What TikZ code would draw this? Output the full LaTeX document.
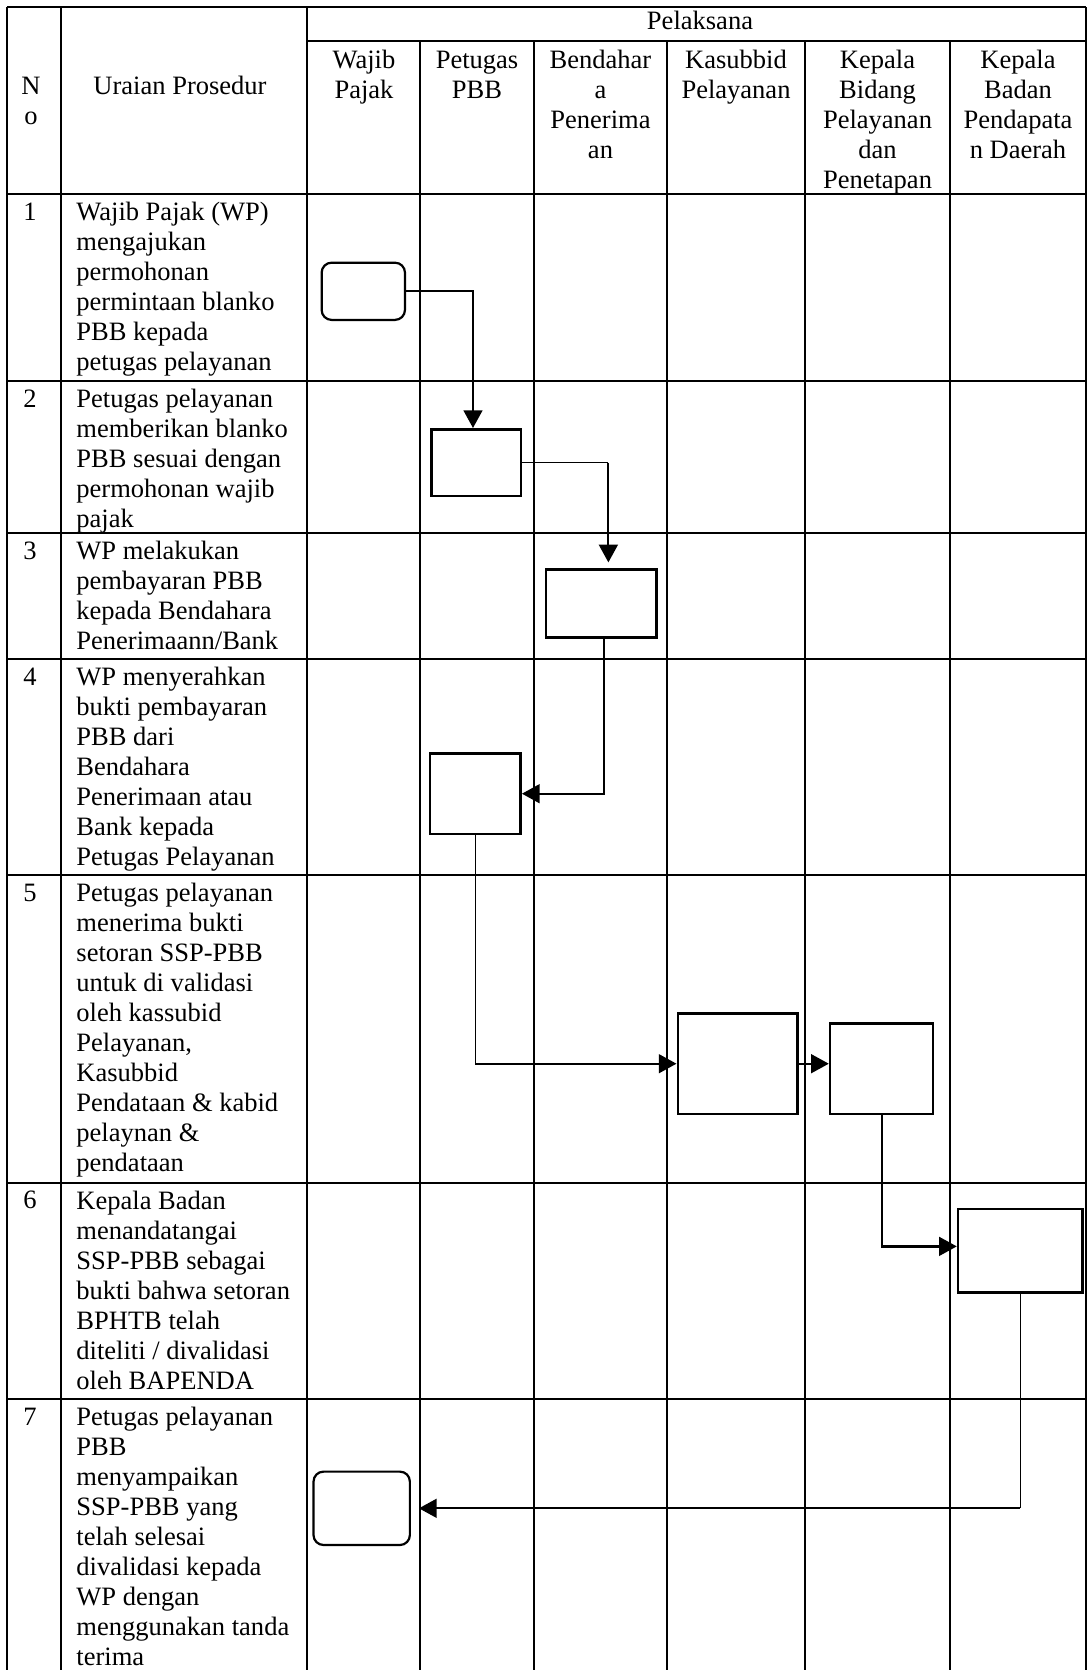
\documentclass[tikz,border=0pt]{standalone}
\usepackage{fontspec}
\setmainfont{Liberation Serif}
\usepackage{tikz}
\usetikzlibrary{arrows.meta, positioning, calc}
\definecolor{InkBlack}{HTML}{000000}

\tikzset{
  gridline/.style={draw=InkBlack, line width=0.9pt},
  procbox/.style={draw=InkBlack, line width=1.2pt, inner sep=0pt},
  termbox/.style={procbox, rounded corners=4.5pt, line width=1pt},
  flowline/.style={draw=InkBlack, line width=1pt,
                   -{Triangle[width=8.5pt, length=8pt]}},
  thinline/.style={draw=InkBlack, line width=0.5pt},
  headtext/.style={inner sep=0pt, align=center, anchor=north},
  steptext/.style={inner sep=0pt, align=left, anchor=north west},
  numtext/.style={inner sep=0pt, anchor=base},
}

\begin{document}
\begin{tikzpicture}[x=0.4525pt, y=-0.4525pt,
                    font=\fontsize{12}{13.6}\selectfont]
\useasboundingbox (0,0) rectangle (1088,1670);

% table frame
\draw[gridline] (7,7.3) -- (1086,7.3);
\draw[gridline] (307,40.7) -- (1086,40.7);
\foreach \y in {194,381,533.3,659,875,1182.7,1399}
  \draw[gridline] (7,\y) -- (1086,\y);
\foreach \x in {7,61,307,1086}
  \draw[gridline] (\x,7.3) -- (\x,1670);
\foreach \x in {420,534,667,805,950}
  \draw[gridline] (\x,40.7) -- (\x,1670);

% header
\node[headtext] (hno) at (31,73) {\strut N\\\strut o};
\node[numtext] (hurai) at (180,94) {Uraian Prosedur};
\node[numtext] (hpel) at (700,30) {Pelaksana};
\node[headtext] (hwp) at (364,46.7) {\strut Wajib\\Pajak};
\node[headtext] (hptg) at (477,46.7) {\strut Petugas\\PBB};
\node[headtext] (hbdh) at (600.5,46.7) {\strut Bendahar\\a\\Penerima\\an};
\node[headtext] (hksb) at (736,46.7) {\strut Kasubbid\\Pelayanan};
\node[headtext] (hkbp) at (877.5,46.7) {\strut Kepala\\Bidang\\Pelayanan\\dan\\Penetapan};
\node[headtext] (hkbd) at (1018,46.7) {\strut Kepala\\Badan\\Pendapata\\n Daerah};

% step numbers
\node[numtext] (n1) at (30,220) {1};
\node[numtext] (n2) at (30,407) {2};
\node[numtext] (n3) at (30,559.3) {3};
\node[numtext] (n4) at (30,685) {4};
\node[numtext] (n5) at (30,901) {5};
\node[numtext] (n6) at (30,1208.7) {6};
\node[numtext] (n7) at (30,1425) {7};

% step descriptions
\node[steptext] (t1) at (76,199) {\strut Wajib Pajak (WP)\\mengajukan\\permohonan\\permintaan blanko\\PBB kepada\\petugas pelayanan};
\node[steptext] (t2) at (76,386) {\strut Petugas pelayanan\\memberikan blanko\\PBB sesuai dengan\\permohonan wajib\\pajak};
\node[steptext] (t3) at (76,538.3) {\strut WP melakukan\\pembayaran PBB\\kepada Bendahara\\Penerimaann/Bank};
\node[steptext] (t4) at (76,664) {\strut WP menyerahkan\\bukti pembayaran\\PBB dari\\Bendahara\\Penerimaan atau\\Bank kepada\\Petugas Pelayanan};
\node[steptext] (t5) at (76,880) {\strut Petugas pelayanan\\menerima bukti\\setoran SSP-PBB\\untuk di validasi\\oleh kassubid\\Pelayanan,\\Kasubbid\\Pendataan \& kabid\\pelaynan \&\\pendataan};
\node[steptext] (t6) at (76,1187.7) {\strut Kepala Badan\\menandatangai\\SSP-PBB sebagai\\bukti bahwa setoran\\BPHTB telah\\diteliti / divalidasi\\oleh BAPENDA};
\node[steptext] (t7) at (76,1404) {\strut Petugas pelayanan\\PBB\\menyampaikan\\SSP-PBB yang\\telah selesai\\divalidasi kepada\\WP dengan\\menggunakan tanda\\terima};

% flow symbols
\node[termbox, minimum width=37.7pt, minimum height=25.9pt] (b1) at (363.3,291.3) {};
\node[procbox, minimum width=40.4pt, minimum height=30.2pt] (b2) at (476.3,462.7) {};
\node[procbox, minimum width=50.1pt, minimum height=31pt] (b3) at (601.3,603.5) {};
\node[procbox, minimum width=41pt, minimum height=36.5pt] (b4) at (475.3,793.7) {};
\node[procbox, minimum width=54pt, minimum height=45.6pt] (b5) at (737.5,1063.7) {};
\node[procbox, minimum width=46.6pt, minimum height=41pt] (b6) at (881.6,1068.7) {};
\node[procbox, minimum width=56.2pt, minimum height=37.8pt] (b7) at (1020.2,1250.8) {};
\node[termbox, minimum width=43.6pt, minimum height=33.2pt] (b8) at (361.7,1508.3) {};

% connectors
\coordinate (in2) at ([xshift=-1.5pt]b2.north);
\coordinate (in3) at ([xshift=3.2pt]b3.north);
\coordinate (out3) at ([xshift=1.2pt]b3.south);
\coordinate (in7) at ([yshift=2pt]b7.west);
\draw[flowline] (b1.east) -| (in2);
\draw[thinline] (b2.east) -- (b2.east -| in3);
\draw[flowline, shorten >=2.5pt] (b2.east -| in3) -- (in3);
\draw[flowline] (out3) |- (b4.east);
\draw[thinline] (b4.south) -- (b4.south |- b5.west);
\draw[flowline] (b4.south |- b5.west) -- (b5.west);
\draw[flowline] (b5.east) -- (b5.east -| b6.west);
\draw[flowline] (b6.south) |- (in7);
\draw[thinline] (b7.south) -- (b7.south |- b8.east);
\draw[flowline, shorten >=3.6pt] (b7.south |- b8.east) -- (b8.east);
\end{tikzpicture}
\end{document}
